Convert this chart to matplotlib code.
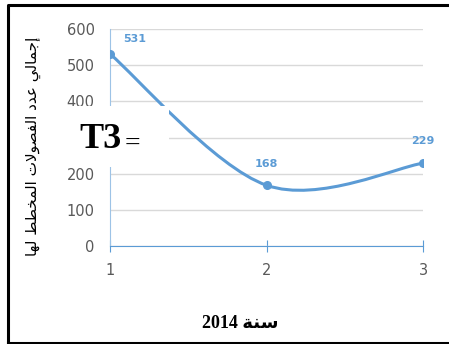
import numpy as np
import matplotlib.pyplot as plt
from matplotlib.patches import Rectangle
from matplotlib.path import Path
from matplotlib.patches import PathPatch

# data
semesters = [1, 2, 3]
totals = [531, 168, 229]
y_ticks = [0, 100, 200, 300, 400, 500, 600]

ylabel_ar = 'إجمالي عدد الفصولات المخطط لها'
xlabel_ar = 'سنة 2014'

# arabic presentation forms: isolated, final, initial, medial
FORMS = {
    'ا': (0xFE8D, 0xFE8E, None, None),
    'إ': (0xFE87, 0xFE88, None, None),
    'ت': (0xFE95, 0xFE96, 0xFE97, 0xFE98),
    'ة': (0xFE93, 0xFE94, None, None),
    'ج': (0xFE9D, 0xFE9E, 0xFE9F, 0xFEA0),
    'خ': (0xFEA5, 0xFEA6, 0xFEA7, 0xFEA8),
    'د': (0xFEA9, 0xFEAA, None, None),
    'س': (0xFEB1, 0xFEB2, 0xFEB3, 0xFEB4),
    'ص': (0xFEB9, 0xFEBA, 0xFEBB, 0xFEBC),
    'ط': (0xFEC1, 0xFEC2, 0xFEC3, 0xFEC4),
    'ع': (0xFEC9, 0xFECA, 0xFECB, 0xFECC),
    'ف': (0xFED1, 0xFED2, 0xFED3, 0xFED4),
    'ل': (0xFEDD, 0xFEDE, 0xFEDF, 0xFEE0),
    'م': (0xFEE1, 0xFEE2, 0xFEE3, 0xFEE4),
    'ن': (0xFEE5, 0xFEE6, 0xFEE7, 0xFEE8),
    'ه': (0xFEE9, 0xFEEA, 0xFEEB, 0xFEEC),
    'و': (0xFEED, 0xFEEE, None, None),
    'ي': (0xFEF1, 0xFEF2, 0xFEF3, 0xFEF4),
    'لا': (0xFEFB, 0xFEFC, None, None),
}


def shape_word(word):
    # merge lam + alef into one ligature
    chars = []
    i = 0
    while i < len(word):
        if word[i] == 'ل' and i + 1 < len(word) and word[i + 1] == 'ا':
            chars.append('لا')
            i += 2
        else:
            chars.append(word[i])
            i += 1
    out = []
    for i, c in enumerate(chars):
        f = FORMS[c]
        prev = FORMS[chars[i - 1]] if i > 0 else None
        nxt = i + 1 < len(chars)
        joins_prev = prev is not None and prev[2] is not None
        joins_next = nxt and f[2] is not None
        if joins_prev and joins_next:
            code = f[3]
        elif joins_prev:
            code = f[1]
        elif joins_next:
            code = f[2]
        else:
            code = f[0]
        out.append(chr(code))
    return ''.join(reversed(out))


def rtl(text):
    words = []
    for w in text.split(' '):
        if w and w[0] >= '\u0600':
            words.append(shape_word(w))
        else:
            words.append(w)
    return ' '.join(reversed(words))


def smooth_path(x, y):
    # bezier smoothing like office line charts
    pts = np.column_stack([x, y]).astype(float)
    n = len(pts)
    verts = [pts[0]]
    codes = [Path.MOVETO]
    for i in range(n - 1):
        p0 = pts[max(i - 1, 0)]
        p1 = pts[i]
        p2 = pts[i + 1]
        p3 = pts[min(i + 2, n - 1)]
        c1 = p1 + (p2 - p0) / 6
        c2 = p2 - (p3 - p1) / 6
        verts += [c1, c2, p2]
        codes += [Path.CURVE4] * 3
    return Path(verts, codes)


blue = '#5B9BD5'
grey = '#595959'

fig = plt.figure(figsize=(4.49, 3.44), dpi=100)
ax = fig.add_axes([110 / 449, 98 / 344, 313 / 449, 217 / 344])

ax.add_patch(PathPatch(smooth_path(semesters, totals), facecolor='none',
                       edgecolor=blue, lw=2.2, capstyle='round', zorder=3))
ax.plot(semesters, totals, 'o', color=blue, ms=5.5, zorder=4)

label_offsets = [(18, 11), (0, 15), (0, 16)]
for xv, yv, off in zip(semesters, totals, label_offsets):
    ax.annotate(str(yv), (xv, yv), xytext=off, textcoords='offset points',
                ha='center', va='center', color=blue, fontsize=8,
                fontweight='bold')

ax.set_xlim(1, 3)
ax.set_ylim(0, 600)
ax.set_xticks(semesters)
ax.set_yticks(y_ticks)
ax.grid(axis='y', color='#D9D9D9', lw=1)
ax.set_axisbelow(True)
for s in ['top', 'right']:
    ax.spines[s].set_visible(False)
ax.spines['left'].set_color('#9DC3E6')
ax.spines['bottom'].set_color(blue)
ax.tick_params(axis='y', length=0, pad=11, labelsize=10.5, labelcolor=grey)
ax.tick_params(axis='x', direction='inout', length=9, color=blue, pad=8,
               labelsize=10.5, labelcolor=grey)

fig.text(33 / 449, 1 - 146 / 344, rtl(ylabel_ar), rotation=90,
         ha='center', va='center', fontsize=11, family=['DejaVu Sans'])
fig.text(240 / 449, 1 - 323 / 344, rtl(xlabel_ar), ha='center', va='center',
         fontsize=13, fontweight='bold',
         family=['Liberation Serif', 'DejaVu Sans'])

# white box with the T3 tag, it sits over the 300 label
fig.add_artist(Rectangle((45 / 449, 1 - 167 / 344), 124 / 449, 61 / 344,
                         transform=fig.transFigure, facecolor='white',
                         edgecolor='none', zorder=5))
fig.canvas.draw()
ax.get_yticklabels()[y_ticks.index(300)].set_visible(False)
fig.text(79 / 449, 1 - 139 / 344, 'T3', fontsize=26, fontweight='bold',
         family='Liberation Serif', va='center', ha='left', zorder=6)
fig.text(125 / 449, 1 - 144 / 344, '=', fontsize=20,
         family='Liberation Serif', va='center', ha='left', zorder=6)

# frame around the figure
fig.add_artist(plt.Line2D([8 / 449, 8 / 449, 1], [1 - 343 / 344, 1 - 5 / 344, 1 - 5 / 344],
                          transform=fig.transFigure, color='black', lw=2.2))
fig.add_artist(plt.Line2D([8 / 449, 1], [1 - 342.5 / 344, 1 - 342.5 / 344],
                          transform=fig.transFigure, color='black', lw=2.2))

fig.savefig('out.png', dpi=100)
